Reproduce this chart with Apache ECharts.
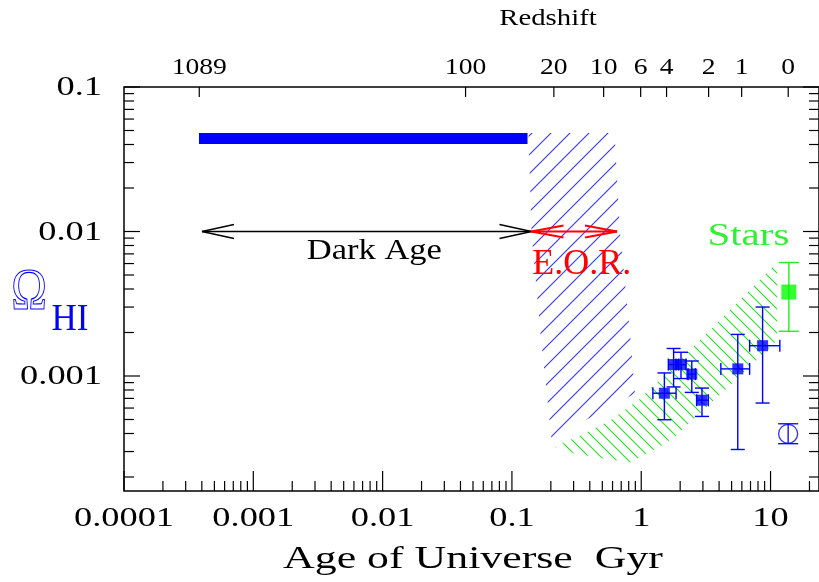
<!DOCTYPE html>
<html><head><meta charset="utf-8">
<script src="https://cdn.jsdelivr.net/npm/echarts@6/dist/echarts.min.js"></script>
<style>html,body{margin:0;padding:0;background:#fff}#c{width:819px;height:582px}</style>
</head><body><div id="c"></div>
<script>
// ---------- axis ranges & ticks ----------
const X_MIN = 1e-4, X_MAX = 23.7, Y_MIN = 1.6e-4, Y_MAX = 0.1;
const xMajorTicks = [1e-4, 1e-3, 1e-2, 1e-1, 1, 10];
const xTickLabels = ['0.0001', '0.001', '0.01', '0.1', '1', '10'];
const yMajorTicks = [1e-3, 1e-2, 1e-1];
const yTickLabels = ['0.001', '0.01', '0.1'];
const redshiftLabels = ['1089', '100', '20', '10', '6', '4', '2', '1', '0'];
const redshiftAges = [3.82e-4, 0.0438, 0.211, 0.512, 0.99, 1.57, 3.32, 5.98, 13.7];

// ---------- HI measurements (blue squares) ----------
const hiAge      = [1.51, 1.78, 2.03, 2.46, 2.95, 5.58, 8.68];
const hiOmega    = [7.6e-4, 1.20e-3, 1.20e-3, 1.03e-3, 6.8e-4, 1.12e-3, 1.62e-3];
const hiAgeLo    = [1.23, 1.62, 1.86, 2.30, 2.68, 4.13, 6.89];
const hiAgeHi    = [1.86, 1.95, 2.22, 2.62, 3.30, 6.89, 11.8];
const hiOmegaLo  = [4.98e-4, 8.4e-4, 9.6e-4, 7.7e-4, 5.25e-4, 3.1e-4, 6.5e-4];
const hiOmegaHi  = [1.05e-3, 1.55e-3, 1.46e-3, 1.27e-3, 8.25e-4, 1.94e-3, 3.0e-3];

// local value (open circle)
const localAge = [13.68];
const localOmega = [3.98e-4];
const localOmegaLo = [3.40e-4];
const localOmegaHi = [4.67e-4];

// stars (green square)
const starAge = [13.85];
const starOmega = [3.81e-3];
const starOmegaLo = [2.04e-3];
const starOmegaHi = [6.10e-3];

// thick blue bar (primordial HI)
const barAge = [3.8e-4, 0.132];
const barOmega = [0.0441, 0.0441];

// arrows at Omega = 0.01
const arrowOmega = 0.01;
const darkAgeSpan = [4.01e-4, 0.1417];
const eorSpan = [0.1417, 0.65];

// EOR hatched region (age, omega)
const eorRegionAge   = [0.1344, 0.574, 0.628, 0.686, 0.819, 0.894, 0.202, 0.1663, 0.1417];
const eorRegionOmega = [0.048, 0.048, 0.0409, 0.00973, 0.00197, 7.57e-4, 3.69e-4, 0.00197, 0.00973];

// Stars hatched band (age, omega)
const starRegionAge   = [0.213, 0.338, 0.574, 0.943, 1.915, 3.89, 7.90, 11.26, 11.26, 5.54, 2.73, 1.785, 1.393, 1.068, 0.819, 0.508, 0.309, 0.241];
const starRegionOmega = [3.25e-4, 3.88e-4, 4.92e-4, 6.78e-4, 1.24e-3, 2.35e-3, 4.45e-3, 6.12e-3, 1.76e-3, 9.62e-4, 5.33e-4, 3.75e-4, 3.25e-4, 2.86e-4, 2.52e-4, 2.69e-4, 2.91e-4, 3.05e-4];

// annotations
const annotTexts = ['Dark Age', 'E.O.R.', 'Stars'];
const annotAge   = [8.63e-3, 0.3467, 6.74];
const annotOmega = [7.30e-3, 5.91e-3, 9.28e-3];

// ---------- helpers ----------
const FONT = '"Liberation Serif", "DejaVu Serif", serif';
const BLUE = '#0000ff', RED = '#ff0000', GREEN = '#00ff00';

function hatchCanvas(size, color, dir, lw) {
  const c = document.createElement('canvas');
  c.width = size; c.height = size;
  const g = c.getContext('2d');
  g.strokeStyle = color; g.lineWidth = lw;
  g.beginPath();
  if (dir > 0) {
    g.moveTo(-2, size + 2); g.lineTo(size + 2, -2);
    g.moveTo(-2, 2); g.lineTo(2, -2);
    g.moveTo(size - 2, size + 2); g.lineTo(size + 2, size - 2);
  } else {
    g.moveTo(-2, -2); g.lineTo(size + 2, size + 2);
    g.moveTo(-2, size - 2); g.lineTo(2, size + 2);
    g.moveTo(size - 2, -2); g.lineTo(size + 2, 2);
  }
  g.stroke();
  return c;
}
const blueHatch = hatchCanvas(19, '#3535ff', 1, 1.1);
const greenHatch = hatchCanvas(12, '#22e622', -1, 1.1);

function L(x1, y1, x2, y2, w, c) {
  return { type: 'line', silent: true, shape: { x1, y1, x2, y2 }, style: { stroke: c || '#000', lineWidth: w || 1.2 } };
}
function T(s, x, y, size, color, align, sx) {
  return { type: 'text', silent: true, x, y, scaleX: sx || 1,
    style: { text: s, x: 0, y: 0, fill: color, font: size + 'px ' + FONT, align: align || 'center', verticalAlign: 'middle' } };
}

const xMinorTicks = [];
for (let d = -4; d <= 1; d++) for (let m = 2; m <= 9; m++) { const v = m * Math.pow(10, d); if (v < X_MAX) xMinorTicks.push(v); }
const yMinorTicks = [];
for (let d = -4; d <= -2; d++) for (let m = 2; m <= 9; m++) { const v = m * Math.pow(10, d); if (v > Y_MIN && v < Y_MAX) yMinorTicks.push(v); }

function decoRender(params, api) {
  const ch = [];
  const p0 = api.coord([X_MIN, Y_MIN]);
  const p1 = api.coord([X_MAX, Y_MAX]);
  const xl = p0[0], yb = p0[1], xr = p1[0], yt = p1[1];
  xMajorTicks.forEach((v, i) => {
    const x = api.coord([v, Y_MIN])[0];
    ch.push(L(x, yb, x, yb - 20));
    ch.push(T(xTickLabels[i], x, yb + 27.5, 28, '#000', 'center', 1.3));
  });
  xMinorTicks.forEach(v => { const x = api.coord([v, Y_MIN])[0]; ch.push(L(x, yb, x, yb - 10)); });
  yMajorTicks.forEach((v, i) => {
    const y = api.coord([X_MIN, v])[1];
    ch.push(L(xl, y, xl + 16, y));
    ch.push(L(xr, y, xr - 16, y));
    ch.push(T(yTickLabels[i], xl - 22, y + 1, 28, '#000', 'right', 1.3));
  });
  yMinorTicks.forEach(v => {
    const y = api.coord([X_MIN, v])[1];
    ch.push(L(xl, y, xl + 10, y));
    ch.push(L(xr, y, xr - 10, y));
  });
  redshiftAges.forEach((a, i) => {
    const x = api.coord([a, Y_MAX])[0];
    ch.push(L(x, yt, x, yt + 10));
    ch.push(T(redshiftLabels[i], x, yt - 19, 23, '#000', 'center', 1.2));
  });
  // arrows
  function arrow(span, color, w, hw) {
    const a = api.coord([span[0], arrowOmega]);
    const b = api.coord([span[1], arrowOmega]);
    const len = 32;
    ch.push(L(a[0], a[1], b[0], b[1], w, color));
    ch.push(L(a[0], a[1], a[0] + len, a[1] - hw, w, color));
    ch.push(L(a[0], a[1], a[0] + len, a[1] + hw, w, color));
    ch.push(L(b[0], b[1], b[0] - len, b[1] - hw, w, color));
    ch.push(L(b[0], b[1], b[0] - len, b[1] + hw, w, color));
  }
  arrow(darkAgeSpan, '#000', 1.4, 7);
  arrow(eorSpan, RED, 2.2, 6);
  // annotations
  const annStyle = [
    { size: 30, color: '#000', sx: 1.15 },
    { size: 36, color: RED, sx: 1.0 },
    { size: 32, color: '#33ee33', sx: 1.28 }
  ];
  annotTexts.forEach((s, i) => {
    const p = api.coord([annotAge[i], annotOmega[i]]);
    ch.push(T(s, p[0], p[1], annStyle[i].size, annStyle[i].color, 'center', annStyle[i].sx));
  });
  return { type: 'group', children: ch };
}

function regionRender(ages, omegas, pattern) {
  return function (params, api) {
    const pts = ages.map((a, i) => api.coord([a, omegas[i]]));
    return { type: 'polygon', silent: true, shape: { points: pts },
      style: { fill: { image: pattern, repeat: 'repeat' }, stroke: null } };
  };
}

function errRender(color, lw, capW, capH) {
  return function (params, api) {
    const x = api.value(0), y = api.value(1);
    const xlo = api.value(2), xhi = api.value(3), ylo = api.value(4), yhi = api.value(5);
    const pLo = api.coord([x, ylo]), pHi = api.coord([x, yhi]);
    const ch = [
      L(pLo[0], pLo[1], pHi[0], pHi[1], lw, color),
      L(pLo[0] - capW / 2, pLo[1], pLo[0] + capW / 2, pLo[1], lw, color),
      L(pHi[0] - capW / 2, pHi[1], pHi[0] + capW / 2, pHi[1], lw, color)
    ];
    if (xlo !== xhi) {
      const qL = api.coord([xlo, y]), qR = api.coord([xhi, y]);
      ch.push(L(qL[0], qL[1], qR[0], qR[1], lw, color));
      ch.push(L(qL[0], qL[1] - capH / 2, qL[0], qL[1] + capH / 2, lw, color));
      ch.push(L(qR[0], qR[1] - capH / 2, qR[0], qR[1] + capH / 2, lw, color));
    }
    return { type: 'group', children: ch };
  };
}

const hiErrData = hiAge.map((a, i) => [a, hiOmega[i], hiAgeLo[i], hiAgeHi[i], hiOmegaLo[i], hiOmegaHi[i]]);
const localErrData = localAge.map((a, i) => [a, localOmega[i], a, a, localOmegaLo[i], localOmegaHi[i]]);
const starErrData = starAge.map((a, i) => [a, starOmega[i], a, a, starOmegaLo[i], starOmegaHi[i]]);

const chart = echarts.init(document.getElementById('c'), null, { renderer: 'canvas' });
chart.setOption({
  animation: false,
  backgroundColor: '#fff',
  grid: { left: 124, top: 87, width: 698, height: 404, show: true, borderColor: '#000', borderWidth: 1.5, backgroundColor: 'transparent' },
  xAxis: { type: 'log', logBase: 10, min: X_MIN, max: X_MAX,
    axisLine: { show: false }, axisTick: { show: false }, axisLabel: { show: false }, splitLine: { show: false } },
  yAxis: { type: 'log', logBase: 10, min: Y_MIN, max: Y_MAX,
    axisLine: { show: false }, axisTick: { show: false }, axisLabel: { show: false }, splitLine: { show: false } },
  graphic: [
    { type: 'text', x: 473, y: 560, scaleX: 1.37, silent: true,
      style: { text: 'Age of Universe  Gyr', font: '32px ' + FONT, fill: '#000', align: 'center', verticalAlign: 'middle' } },
    { type: 'text', x: 548, y: 19, scaleX: 1.25, silent: true,
      style: { text: 'Redshift', font: '23px ' + FONT, fill: '#000', align: 'center', verticalAlign: 'middle' } },
    { type: 'text', x: 29, y: 293, scaleX: 0.8, silent: true,
      style: { text: 'Ω', font: '60px ' + FONT, fill: 'rgba(0,0,0,0)', stroke: BLUE, lineWidth: 1.1, align: 'center', verticalAlign: 'middle' } },
    { type: 'text', x: 70, y: 320.5, scaleX: 0.92, silent: true,
      style: { text: 'HI', font: '38px ' + FONT, fill: BLUE, align: 'center', verticalAlign: 'middle' } }
  ],
  series: [
    { type: 'custom', name: 'EOR region', z: 1, renderItem: regionRender(eorRegionAge, eorRegionOmega, blueHatch), data: [[0.3, 0.005]] },
    { type: 'custom', name: 'Stars region', z: 1, renderItem: regionRender(starRegionAge, starRegionOmega, greenHatch), data: [[1, 0.001]] },
    { type: 'line', name: 'Primordial HI', z: 3, symbol: 'none', data: barAge.map((a, i) => [a, barOmega[i]]),
      lineStyle: { color: BLUE, width: 11, cap: 'butt' } },
    { type: 'custom', name: 'decor', z: 4, renderItem: decoRender, data: [[X_MIN, Y_MIN]] },
    { type: 'custom', name: 'HI errors', z: 5, renderItem: errRender(BLUE, 1.4, 14, 12), data: hiErrData },
    { type: 'custom', name: 'local errors', z: 5, renderItem: errRender(BLUE, 1.3, 20, 0), data: localErrData },
    { type: 'custom', name: 'star errors', z: 5, renderItem: errRender('#22ee22', 1.4, 20, 0), data: starErrData },
    { type: 'scatter', name: 'HI', z: 6, symbol: 'rect', symbolSize: 11, itemStyle: { color: BLUE },
      data: hiAge.map((a, i) => [a, hiOmega[i]]) },
    { type: 'scatter', name: 'Local HI', z: 6, symbol: 'circle', symbolSize: 19,
      itemStyle: { color: 'rgba(0,0,0,0)', borderColor: BLUE, borderWidth: 1.3 },
      data: localAge.map((a, i) => [a, localOmega[i]]) },
    { type: 'scatter', name: 'Stars', z: 6, symbol: 'rect', symbolSize: 15, itemStyle: { color: GREEN },
      data: starAge.map((a, i) => [a, starOmega[i]]) }
  ]
});
</script>
</body></html>
